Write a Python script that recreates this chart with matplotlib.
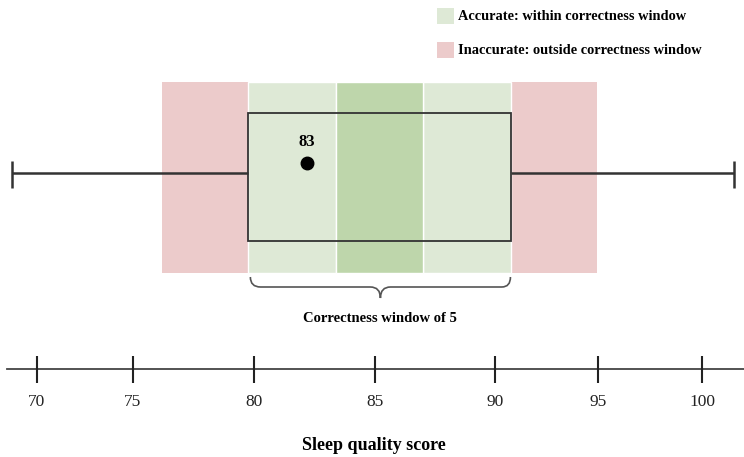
import numpy as np
import matplotlib
matplotlib.use("Agg")
import matplotlib.pyplot as plt
from matplotlib.patches import Rectangle, PathPatch
from matplotlib.path import Path

plt.rcParams['font.family'] = ['Liberation Serif', 'DejaVu Serif']

# data (sleep quality scores)
tick_scores = [70, 75, 80, 85, 90, 95, 100]
whisker_lo = 68.7
whisker_hi = 101.55
q1 = 79.75
q3 = 90.8
inaccurate_zones = [(76.2, 79.75), (90.8, 94.95)]
accurate_zones = [(79.75, 83.4), (87.0, 90.8)]
core_zone = (83.4, 87.0)
point_x = 82.2
point_label = "83"
window_text = "Correctness window of 5"
legend_labels = ["Accurate: within correctness window",
                 "Inaccurate: outside correctness window"]

# the drawn number line is not evenly spaced: piecewise scale
tick_px = [37, 133, 254, 375, 495, 598, 702]
s_ext = [50] + tick_scores + [120]
p_ext = [37 - 20 * 19.2] + tick_px + [702 + 20 * 20.8]


def fwd(x):
    return np.interp(x, s_ext, p_ext)


def inv(p):
    return np.interp(p, p_ext, s_ext)


RED = '#ECCBCB'
LGREEN = '#DEE9D6'
DGREEN = '#BED6AB'
EDGE = '#333333'

fig = plt.figure(figsize=(7.44, 4.57), dpi=100)
ax = fig.add_axes([0, 0, 1, 1])
ax.set_xscale('function', functions=(fwd, inv))
ax.set_xlim(inv(0), inv(744))
ax.set_ylim(457, 0)
ax.axis('off')

# shaded windows
y_top, y_bot = 82, 273
for lo, hi in inaccurate_zones:
    ax.add_patch(Rectangle((lo, y_top), hi - lo, y_bot - y_top, facecolor=RED,
                           edgecolor='none', zorder=1))
for lo, hi in accurate_zones:
    ax.add_patch(Rectangle((lo, y_top), hi - lo, y_bot - y_top, facecolor=LGREEN,
                           edgecolor='white', lw=1.0, zorder=1))
ax.add_patch(Rectangle((core_zone[0], y_top), core_zone[1] - core_zone[0],
                       y_bot - y_top, facecolor=DGREEN, edgecolor='white',
                       lw=1.0, zorder=1))

# box and whiskers
ax.add_patch(Rectangle((q1, 113), q3 - q1, 128, facecolor='none',
                       edgecolor=EDGE, lw=1.3, zorder=3))
ax.hlines(173, whisker_lo, q1, color=EDGE, lw=1.8, zorder=3)
ax.hlines(173, q3, whisker_hi, color=EDGE, lw=1.8, zorder=3)
ax.vlines([whisker_lo, whisker_hi], 161, 188, color=EDGE, lw=1.8, zorder=3)

# observation
ax.plot([point_x], [163], 'o', color='black', ms=9, zorder=4)
ax.text(point_x, 142, point_label, ha='center', va='center', fontsize=12,
        fontweight='bold', zorder=4)

# brace under the window
bl, br = q1 + 0.1, q3 - 0.05
bm = float(inv((fwd(bl) + fwd(br)) / 2))
r = 0.42
y0, y1, y2 = 277, 287, 298
verts = [(bl, y0), (bl, y1), (bl + r, y1),
         (bm - r, y1), (bm, y1), (bm, y2),
         (bm, y1), (bm + r, y1),
         (br - r, y1), (br, y1), (br, y0)]
codes = [Path.MOVETO, Path.CURVE3, Path.CURVE3,
         Path.LINETO, Path.CURVE3, Path.CURVE3,
         Path.CURVE3, Path.CURVE3,
         Path.LINETO, Path.CURVE3, Path.CURVE3]
ax.add_patch(PathPatch(Path(verts, codes), facecolor='none', edgecolor='#555555',
                       lw=1.2, zorder=3))
ax.text(bm, 318, window_text, ha='center', va='center', fontsize=10.5,
        fontweight='bold')

# number line
ax.axhline(369, xmin=7 / 744, xmax=1, color='#444444', lw=1.3)
ax.vlines(tick_scores, 356, 383, color='#222222', lw=1.5)
for t in tick_scores:
    ax.text(t, 402, str(t), ha='center', va='center', fontsize=12.5,
            color='#222222')
fig.text(374 / 744, 1 - 445 / 457, "Sleep quality score", ha='center',
         va='center', fontsize=13, fontweight='bold')

# legend
for i, (lab, col) in enumerate(zip(legend_labels, [LGREEN, RED])):
    yc = 16 + 34 * i
    fig.add_artist(Rectangle((437 / 744, 1 - (yc + 8) / 457), 17 / 744, 16 / 457,
                             transform=fig.transFigure, facecolor=col,
                             edgecolor='none'))
    fig.text(458 / 744, 1 - yc / 457, lab, ha='left', va='center', fontsize=10.4,
             fontweight='bold')

fig.savefig('out.png', dpi=100)
